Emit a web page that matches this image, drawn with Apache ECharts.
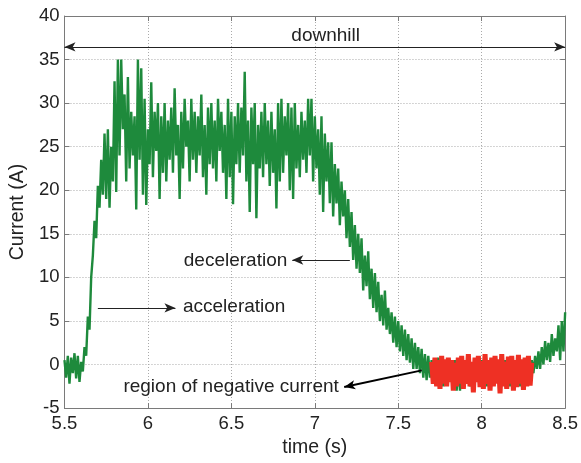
<!DOCTYPE html>
<html>
<head>
<meta charset="utf-8">
<script src="https://cdn.jsdelivr.net/npm/echarts@6/dist/echarts.min.js"></script>
<style>
  html, body { margin: 0; padding: 0; background: #ffffff; }
  #chart { width: 581px; height: 463px; }
</style>
</head>
<body>
<div id="chart"></div>
<script>
// Motor current over a downhill run, sampled every 10 ms from t = 5.50 s.
const sampleStart = 5.50;
const sampleStep = 0.01;
const currentTrace = [
  0.5, -1.5, 1.0, -2.2, 0.8, -1.0, 1.3, -1.6, 1.0, -2.0,
  0.3, -0.8, 2.0, 1.0, 5.5, 4.0, 10.0, 12.5, 16.5, 14.5,
  20.5, 18.0, 23.5, 19.5, 26.5, 19.0, 27.0, 18.0, 25.0, 21.0,
  32.5, 19.8, 35.0, 24.0, 35.0, 27.0, 31.0, 21.0, 33.0, 22.5,
  29.0, 24.0, 28.5, 17.8, 35.0, 23.5, 34.0, 19.5, 30.5, 18.3,
  27.0, 23.0, 32.4, 21.5, 29.0, 24.5, 30.0, 19.0, 28.5, 22.0,
  30.0, 21.0, 28.0, 23.5, 29.5, 22.0, 31.7, 24.0, 27.5, 19.0,
  29.0, 22.5, 30.5, 25.0, 28.0, 21.0, 30.5, 23.5, 29.0, 22.0,
  28.5, 24.0, 31.0, 21.5, 27.5, 19.5, 29.5, 23.0, 30.0, 22.5,
  28.0, 21.0, 30.5, 24.5, 29.0, 22.0, 27.5, 19.0, 30.5, 21.5,
  29.0, 18.4, 28.5, 23.0, 30.0, 22.0, 29.5, 24.0, 33.6, 21.0,
  28.0, 17.5, 29.5, 23.0, 30.0, 16.8, 27.5, 22.5, 29.0, 21.5,
  30.0, 23.0, 28.0, 20.5, 29.0, 22.0, 27.0, 17.9, 30.0, 21.0,
  30.5, 22.0, 28.5, 24.0, 30.0, 20.0, 29.5, 19.0, 30.0, 22.5,
  27.5, 21.5, 29.0, 23.5, 28.0, 22.0, 30.5, 24.0, 30.5, 21.0,
  28.5, 22.5, 27.0, 19.5, 28.5, 17.5, 26.5, 21.0, 25.5, 18.5,
  25.5, 17.0, 23.0, 18.5, 22.5, 16.0, 21.0, 17.0, 20.0, 14.5,
  19.0, 13.5, 17.5, 12.0, 16.0, 11.0, 15.0, 10.5, 14.5, 8.5,
  12.5, 9.0, 13.0, 7.5, 11.0, 6.5, 10.5, 6.0, 9.5, 5.0,
  8.0, 4.5, 8.5, 4.0, 6.5, 3.5, 6.0, 2.5, 5.5, 2.0,
  5.0, 1.5, 4.5, 1.0, 4.0, 0.5, 3.5, 0.2, 3.0, -0.5,
  2.5, -0.5, 2.0, -1.0, 1.8, -1.5, 1.2, -1.8, 1.0, -1.5,
  0.5, -1.5, 0.5, -2.0, 0.8, -1.5, 0.2, -2.5, 0.5, -2.0,
  0.5, -2.0, 0.0, -2.5, 0.5, -3.0, 0.2, -3.0, 0.5, -2.0,
  0.0, -2.0, 0.5, -2.5, 0.0, -1.5, 0.5, -2.0, 0.0, -2.0,
  0.5, -2.0, 0.0, -2.5, 0.5, -1.5, 0.0, -2.0, 0.5, -2.0,
  0.5, -2.5, 0.0, -2.0, 0.5, -2.0, 0.0, -2.5, 0.5, -1.5,
  0.0, -2.0, 0.5, -2.5, 0.5, -1.5, 0.0, -2.0, 0.5, -1.5,
  0.5, -1.0, 1.0, -0.5, 1.5, -0.5, 2.0, 0.0, 2.7, 0.5,
  2.5, 0.3, 3.5, 1.0, 3.0, 1.5, 4.5, 0.5, 5.0, 1.5,
  6.0
];

// Stretch where the current goes negative (regenerative braking).
const negativeStart = 7.70;
const negativeTrace = [
  0.3, -2.2, 0.8, -2.5, 0.5, -2.8, 1.0, -2.2, 0.6, -2.5,
  0.8, -2.0, 0.5, -3.0, 0.2, -2.5, 0.8, -2.2, 1.0, -2.8,
  0.5, -2.2, 1.2, -2.5, 0.3, -3.2, 0.8, -2.0, 1.0, -2.6,
  0.4, -2.8, 1.2, -2.2, 0.5, -3.0, 0.8, -2.5, 1.0, -2.2,
  0.6, -3.3, 1.2, -2.5, 0.3, -2.8, 0.9, -2.2, 1.0, -3.0,
  0.5, -2.6, 1.1, -2.2, 0.6, -2.9, 0.8, -2.5, 1.0, -2.4,
  0.2
];

const timeRange = [5.5, 8.5];
const timeInterval = 0.5;
const currentRange = [-5, 40];
const currentInterval = 5;

function toPairs(start, values) {
  return values.map((v, i) => [Math.round((start + i * sampleStep) * 100) / 100, v]);
}

const FONT = '"Liberation Sans", Arial, Helvetica, sans-serif';
const INK = '#222222';
const FRAME = '#7a7a7a';

const chart = echarts.init(document.getElementById('chart'), null, { renderer: 'canvas' });

const gridLine = { show: true, lineStyle: { color: '#aaaaaa', type: [1, 2], width: 1 } };
const innerTick = { show: true, inside: true, length: 5, lineStyle: { color: FRAME } };

function arrow(from, to, startSym, endSym, style) {
  return [
    { coord: from, symbol: startSym, lineStyle: style },
    { coord: to, symbol: endSym }
  ];
}

const thin = { color: INK, width: 1, type: 'solid' };
const thick = { color: '#000000', width: 2, type: 'solid' };

chart.setOption({
  animation: false,
  backgroundColor: '#ffffff',
  textStyle: { fontFamily: FONT },
  grid: { left: 57, right: 14, top: 16, bottom: 47, containLabel: false },
  xAxis: [
    {
      type: 'value', min: timeRange[0], max: timeRange[1], interval: timeInterval,
      position: 'bottom',
      name: 'time (s)', nameLocation: 'middle', nameGap: 22,
      nameTextStyle: { fontSize: 19.5, color: INK, fontFamily: FONT },
      axisLine: { show: true, onZero: false, lineStyle: { color: FRAME, width: 1 } },
      axisTick: innerTick,
      axisLabel: { fontSize: 18.5, color: INK, margin: 6, fontFamily: FONT },
      splitLine: gridLine
    },
    {
      type: 'value', min: timeRange[0], max: timeRange[1], interval: timeInterval,
      position: 'top',
      axisLine: { show: true, onZero: false, lineStyle: { color: FRAME, width: 1 } },
      axisTick: innerTick,
      axisLabel: { show: false },
      splitLine: { show: false }
    }
  ],
  yAxis: [
    {
      type: 'value', min: currentRange[0], max: currentRange[1], interval: currentInterval,
      position: 'left',
      name: 'Current (A)', nameLocation: 'middle', nameGap: 32, nameRotate: 90,
      nameTextStyle: { fontSize: 19.5, color: INK, fontFamily: FONT },
      axisLine: { show: true, onZero: false, lineStyle: { color: FRAME, width: 1 } },
      axisTick: innerTick,
      axisLabel: { fontSize: 18.5, color: INK, margin: 5, fontFamily: FONT },
      splitLine: gridLine
    },
    {
      type: 'value', min: currentRange[0], max: currentRange[1], interval: currentInterval,
      position: 'right',
      axisLine: { show: true, onZero: false, lineStyle: { color: FRAME, width: 1 } },
      axisTick: innerTick,
      axisLabel: { show: false },
      splitLine: { show: false }
    }
  ],
  series: [
    {
      name: 'current',
      type: 'line',
      data: toPairs(sampleStart, currentTrace),
      showSymbol: false,
      symbol: 'none',
      lineStyle: { color: '#1e8a3c', width: 2.4 },
      emphasis: { disabled: true },
      z: 2,
      markLine: {
        silent: true,
        animation: false,
        symbolSize: [7, 11],
        label: { show: false },
        emphasis: { disabled: true },
        lineStyle: thin,
        data: [
          arrow([5.5, 36.45], [8.5, 36.45], 'arrow', 'arrow', thin),
          arrow([5.70, 6.5], [6.165, 6.5], 'none', 'arrow', thin),
          arrow([7.21, 12.0], [6.865, 12.0], 'none', 'arrow', thin),
          arrow([7.641, -0.67], [7.176, -2.59], 'none', 'arrow', thick)
        ]
      }
    },
    {
      name: 'negative current',
      type: 'line',
      data: toPairs(negativeStart, negativeTrace),
      showSymbol: false,
      symbol: 'none',
      lineStyle: { color: '#ee3024', width: 5 },
      emphasis: { disabled: true },
      z: 3
    }
  ]
});

// Annotation texts, placed in data coordinates.
const notes = [
  { text: 'downhill', at: [7.065, 37.7], align: 'center' },
  { text: 'deceleration', at: [6.215, 11.9], align: 'left' },
  { text: 'acceleration', at: [6.21, 6.6], align: 'left' },
  { text: 'region of negative current', at: [5.853, -2.5], align: 'left' }
];

chart.setOption({
  graphic: notes.map(n => {
    const p = chart.convertToPixel({ xAxisIndex: 0, yAxisIndex: 0 }, n.at);
    return {
      type: 'text',
      x: p[0], y: p[1],
      z: 10,
      silent: true,
      style: {
        text: n.text,
        font: '19px ' + FONT,
        fill: INK,
        align: n.align,
        verticalAlign: 'middle',
        textAlign: n.align,
        textVerticalAlign: 'middle'
      }
    };
  })
});
</script>
</body>
</html>
